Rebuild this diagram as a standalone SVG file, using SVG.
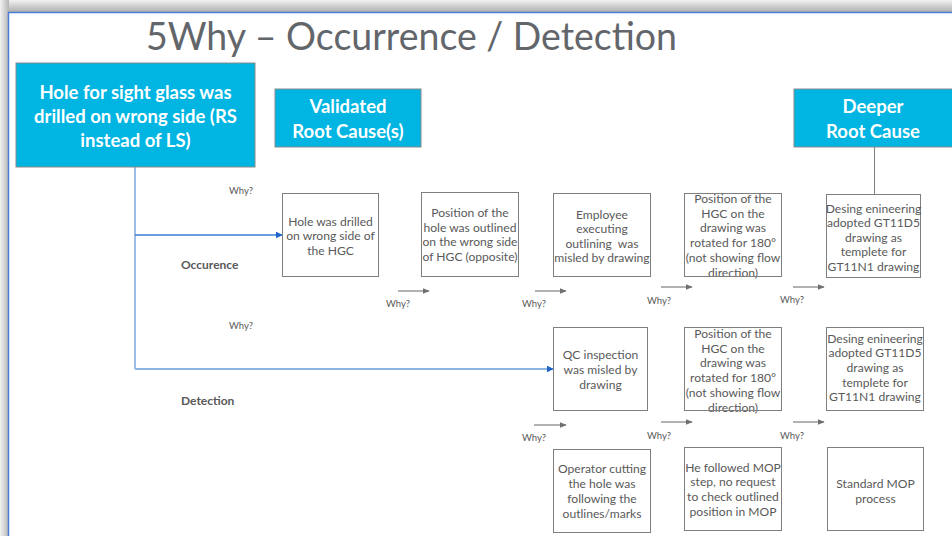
<svg xmlns="http://www.w3.org/2000/svg" width="952" height="536" viewBox="0 0 952 536">
<defs>
<linearGradient id="gTop" x1="0" y1="0" x2="0" y2="1"><stop offset="0" stop-color="#f2f2f2"/><stop offset="1" stop-color="#a9a9a9"/></linearGradient>
<linearGradient id="gLeft" x1="0" y1="0" x2="1" y2="0"><stop offset="0" stop-color="#f2f2f2"/><stop offset="1" stop-color="#b4b4b4"/></linearGradient>
<marker id="ab" viewBox="0 0 10 10" refX="9" refY="5" markerWidth="7" markerHeight="7" markerUnits="userSpaceOnUse" orient="auto"><path d="M0,0 L10,5 L0,10 z" fill="#1f62c8"/></marker>
<marker id="ag" viewBox="0 0 10 10" refX="9" refY="5" markerWidth="7" markerHeight="7" markerUnits="userSpaceOnUse" orient="auto"><path d="M0,1 L10,5 L0,9 z" fill="#6f6f6f"/></marker>
<style>
.hdr{fill:#00b5e2;stroke:#8a8a8a;stroke-width:1}
.ht{font-family:Lato,"Open Sans","Liberation Sans",sans-serif;font-weight:bold;font-size:18.5px;fill:#fff;text-anchor:middle;dominant-baseline:central}
.bx{fill:none;stroke:#7f7f7f;stroke-width:1}
.bt{font-family:Lato,"Liberation Sans",sans-serif;font-size:12.1px;fill:#595959;text-anchor:middle;dominant-baseline:central}
.why{font-family:Lato,"Liberation Sans",sans-serif;font-size:9.5px;fill:#595959;text-anchor:middle;dominant-baseline:central}
.lbl{font-family:Lato,"Liberation Sans",sans-serif;font-size:12px;font-weight:bold;fill:#595959;dominant-baseline:central}
.ga{stroke:#7f7f7f;stroke-width:1.2;fill:none;marker-end:url(#ag)}
</style>
</defs>
<rect x="0" y="0" width="952" height="536" fill="#ffffff"/>
<rect x="0" y="0" width="952" height="13" fill="url(#gTop)"/>
<rect x="0" y="0" width="9" height="536" fill="url(#gLeft)"/>
<rect x="8.5" y="12.5" width="950" height="530" fill="#ffffff" stroke="#4a7ed6" stroke-width="1.5"/>
<text x="146" y="50" font-family="Lato,'Liberation Sans',sans-serif" font-size="39" fill="#62666b" textLength="531" lengthAdjust="spacingAndGlyphs">5Why – Occurrence / Detection</text>

<g id="connectors">
<polyline points="135,167 135,369" fill="none" stroke="#7ea7df" stroke-width="1.5"/>
<line x1="135" y1="235" x2="282" y2="235" stroke="#3a7ed6" stroke-width="1.3" marker-end="url(#ab)"/>
<line x1="135" y1="369" x2="553" y2="369" stroke="#8db4e3" stroke-width="1.8" marker-end="url(#ab)"/>
<line x1="874.5" y1="147" x2="874.5" y2="194" stroke="#7f7f7f" stroke-width="1"/>
<line class="ga" x1="398" y1="291" x2="429" y2="291"/>
<line class="ga" x1="535" y1="291" x2="566" y2="291"/>
<line class="ga" x1="661" y1="287" x2="692" y2="287"/>
<line class="ga" x1="793" y1="287" x2="824" y2="287"/>
<line class="ga" x1="534" y1="425" x2="566" y2="425"/>
<line class="ga" x1="661" y1="422" x2="692" y2="422"/>
<line class="ga" x1="793" y1="422" x2="824" y2="422"/>
<text class="why" x="241" y="190">Why?</text>
<text class="why" x="241" y="325">Why?</text>
<text class="why" x="398" y="303">Why?</text>
<text class="why" x="534" y="303">Why?</text>
<text class="why" x="659" y="300">Why?</text>
<text class="why" x="792" y="299">Why?</text>
<text class="why" x="534" y="437">Why?</text>
<text class="why" x="659" y="435">Why?</text>
<text class="why" x="792" y="435">Why?</text>
</g>

<text class="lbl" x="181" y="264">Occurence</text>
<text class="lbl" x="181" y="400">Detection</text>

<g id="problem">
<rect class="hdr" x="16" y="63" width="239" height="104"/>
<text class="ht" x="135.5" y="92">Hole for sight glass was</text>
<text class="ht" x="135.5" y="116">drilled on wrong side (RS</text>
<text class="ht" x="135.5" y="140">instead of LS)</text>
</g>
<g id="validated">
<rect class="hdr" x="275" y="89" width="146" height="58"/>
<text class="ht" x="348" y="106">Validated</text>
<text class="ht" x="348" y="130.5">Root Cause(s)</text>
</g>
<g id="deeper">
<rect class="hdr" x="794" y="89" width="160" height="58"/>
<text class="ht" x="873" y="106">Deeper</text>
<text class="ht" x="873" y="130.5">Root Cause</text>
</g>

<g id="occ1">
<rect class="bx" x="282.5" y="193.5" width="96" height="83"/>
<text class="bt" x="330.5" y="221.5">Hole was drilled</text>
<text class="bt" x="330.5" y="235.5">on wrong side of</text>
<text class="bt" x="330.5" y="250">the HGC</text>
</g>
<g id="occ2">
<rect class="bx" x="421.5" y="192.5" width="97" height="84"/>
<text class="bt" x="470" y="212">Position of the</text>
<text class="bt" x="470" y="227">hole was outlined</text>
<text class="bt" x="470" y="241.5">on the wrong side</text>
<text class="bt" x="470" y="256">of HGC (opposite)</text>
</g>
<g id="occ3">
<rect class="bx" x="553.5" y="193.5" width="97" height="83"/>
<text class="bt" x="602" y="214">Employee</text>
<text class="bt" x="602" y="228.5">executing</text>
<text class="bt" x="602" y="243" xml:space="preserve">outlining  was</text>
<text class="bt" x="602" y="257.5">misled by drawing</text>
</g>
<g id="occ4">
<text class="bt" x="733" y="198">Position of the</text>
<text class="bt" x="733" y="213">HGC on the</text>
<text class="bt" x="733" y="227.5">drawing was</text>
<text class="bt" x="733" y="242">rotated for 180°</text>
<text class="bt" x="733" y="257">(not showing flow</text>
<text class="bt" x="733" y="272">direction)</text>
<rect class="bx" x="684.5" y="193.5" width="97" height="83"/>
</g>
<g id="occ5">
<rect class="bx" x="826.5" y="194.5" width="94" height="83"/>
<text class="bt" x="873.5" y="208">Desing enineering</text>
<text class="bt" x="873.5" y="222.5">adopted GT11D5</text>
<text class="bt" x="873.5" y="237">drawing as</text>
<text class="bt" x="873.5" y="251.5">templete for</text>
<text class="bt" x="873.5" y="266">GT11N1 drawing</text>
</g>

<g id="det1">
<rect class="bx" x="553.5" y="327.5" width="94" height="83"/>
<text class="bt" x="600.5" y="354">QC inspection</text>
<text class="bt" x="600.5" y="369">was misled by</text>
<text class="bt" x="600.5" y="384">drawing</text>
</g>
<g id="det2">
<text class="bt" x="733" y="333">Position of the</text>
<text class="bt" x="733" y="348">HGC on the</text>
<text class="bt" x="733" y="362.5">drawing was</text>
<text class="bt" x="733" y="377">rotated for 180°</text>
<text class="bt" x="733" y="392">(not showing flow</text>
<text class="bt" x="733" y="407">direction)</text>
<rect class="bx" x="684.5" y="327.5" width="97" height="83"/>
</g>
<g id="det3">
<rect class="bx" x="826.5" y="327.5" width="97" height="83"/>
<text class="bt" x="875" y="338">Desing enineering</text>
<text class="bt" x="875" y="352.5">adopted GT11D5</text>
<text class="bt" x="875" y="367">drawing as</text>
<text class="bt" x="875" y="382">templete for</text>
<text class="bt" x="875" y="396.5">GT11N1 drawing</text>
</g>

<g id="det4">
<rect class="bx" x="553.5" y="449.5" width="97" height="83"/>
<text class="bt" x="602" y="468">Operator cutting</text>
<text class="bt" x="602" y="483">the hole was</text>
<text class="bt" x="602" y="498">following the</text>
<text class="bt" x="602" y="513">outlines/marks</text>
</g>
<g id="det5">
<rect class="bx" x="684.5" y="447.5" width="97" height="83"/>
<text class="bt" x="733" y="467">He followed MOP</text>
<text class="bt" x="733" y="481.5">step, no request</text>
<text class="bt" x="733" y="496">to check outlined</text>
<text class="bt" x="733" y="511">position in MOP</text>
</g>
<g id="det6">
<rect class="bx" x="827.5" y="447.5" width="96" height="83"/>
<text class="bt" x="875.5" y="483">Standard MOP</text>
<text class="bt" x="875.5" y="498">process</text>
</g>
</svg>
